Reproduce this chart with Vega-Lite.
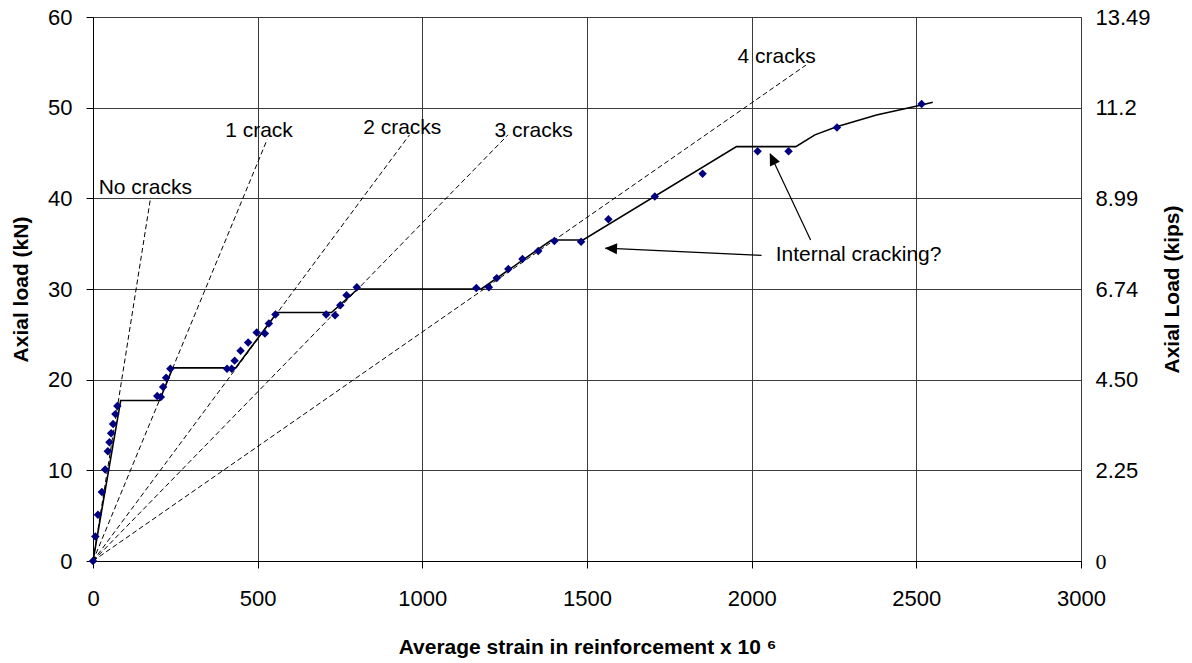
{
  "$schema": "https://vega.github.io/schema/vega-lite/v6.json",
  "autosize": "none",
  "width": 988,
  "height": 544,
  "padding": {"left": 93, "top": 17, "right": 111, "bottom": 102},
  "background": "white",
  "datasets": {
    "measured": [
      {"strain": 0, "load": 0}, {"strain": 7, "load": 2.7}, {"strain": 15, "load": 5.1}, {"strain": 27, "load": 7.6},
      {"strain": 37, "load": 10.1}, {"strain": 45, "load": 12.1}, {"strain": 50, "load": 13.1}, {"strain": 55, "load": 14.1},
      {"strain": 61, "load": 15.1}, {"strain": 68, "load": 16.2}, {"strain": 74, "load": 17.1}, {"strain": 195, "load": 18.2},
      {"strain": 206, "load": 18.1}, {"strain": 213, "load": 19.2}, {"strain": 222, "load": 20.2}, {"strain": 235, "load": 21.2},
      {"strain": 407, "load": 21.2}, {"strain": 421, "load": 21.2}, {"strain": 430, "load": 22.1}, {"strain": 448, "load": 23.2},
      {"strain": 471, "load": 24.1}, {"strain": 497, "load": 25.2}, {"strain": 522, "load": 25.1}, {"strain": 534, "load": 26.2},
      {"strain": 554, "load": 27.2}, {"strain": 708, "load": 27.2}, {"strain": 735, "load": 27.1}, {"strain": 751, "load": 28.2},
      {"strain": 770, "load": 29.3}, {"strain": 801, "load": 30.2}, {"strain": 1164, "load": 30.1}, {"strain": 1202, "load": 30.2},
      {"strain": 1226, "load": 31.2}, {"strain": 1261, "load": 32.2}, {"strain": 1304, "load": 33.3}, {"strain": 1352, "load": 34.2},
      {"strain": 1401, "load": 35.3}, {"strain": 1482, "load": 35.2}, {"strain": 1565, "load": 37.7}, {"strain": 1706, "load": 40.2},
      {"strain": 1851, "load": 42.7}, {"strain": 2018, "load": 45.2}, {"strain": 2112, "load": 45.2}, {"strain": 2259, "load": 47.8},
      {"strain": 2516, "load": 50.4}
    ],
    "model": [
      {"strain": 0, "load": 0}, {"strain": 84, "load": 17.7}, {"strain": 202, "load": 17.7}, {"strain": 242, "load": 21.3},
      {"strain": 433, "load": 21.3}, {"strain": 559, "load": 27.4}, {"strain": 724, "load": 27.4}, {"strain": 804, "load": 30.0},
      {"strain": 1179, "load": 30.0}, {"strain": 1392, "load": 35.4}, {"strain": 1488, "load": 35.4}, {"strain": 1954, "load": 45.7},
      {"strain": 2134, "load": 45.7}, {"strain": 2192, "load": 47.0}, {"strain": 2258, "load": 47.9}, {"strain": 2379, "load": 49.2},
      {"strain": 2516, "load": 50.3}, {"strain": 2550, "load": 50.6}
    ],
    "cracks": [
      {"crack": "No cracks", "strain": 0, "load": 0}, {"crack": "No cracks", "strain": 175, "load": 40.1},
      {"crack": "1 crack", "strain": 0, "load": 0}, {"crack": "1 crack", "strain": 529, "load": 46.5},
      {"crack": "2 cracks", "strain": 0, "load": 0}, {"crack": "2 cracks", "strain": 961, "load": 47.0},
      {"crack": "3 cracks", "strain": 0, "load": 0}, {"crack": "3 cracks", "strain": 1260, "load": 47.0},
      {"crack": "4 cracks", "strain": 0, "load": 0}, {"crack": "4 cracks", "strain": 2165, "load": 54.7}
    ],
    "labels": [
      {"label": "No cracks", "strain": 159, "load": 41.1},
      {"label": "1 crack", "strain": 504, "load": 47.4},
      {"label": "2 cracks", "strain": 939, "load": 47.8},
      {"label": "3 cracks", "strain": 1338, "load": 47.4},
      {"label": "4 cracks", "strain": 2076, "load": 55.6}
    ],
    "notes": [
      {"label": "Internal cracking?", "strain": 2073, "load": 33.7}
    ],
    "arrows": [
      {"strain": 2030, "load": 33.7, "strain2": 1556, "load2": 34.5},
      {"strain": 2179, "load": 35.4, "strain2": 2056, "load2": 44.9}
    ],
    "tip1": [{"strain": 1554, "load": 34.5}],
    "tip2": [{"strain": 2055, "load": 45.0}]
  },
  "layer": [
    {
      "layer": [
        {
          "data": {"name": "cracks"},
          "mark": {"type": "line", "color": "black", "strokeWidth": 1, "strokeDash": [5, 3]},
          "encoding": {
            "x": {
              "field": "strain", "type": "quantitative", "scale": {"domain": [0, 3000], "nice": false},
              "title": "Average strain in reinforcement x 10 ⁶",
              "axis": {"values": [0, 500, 1000, 1500, 2000, 2500, 3000], "format": "d", "grid": true, "labelPadding": 20, "labelFlush": false, "titleX": 494, "titleY": 86, "titleAlign": "center", "titleBaseline": "middle"}
            },
            "y": {
              "field": "load", "type": "quantitative", "scale": {"domain": [0, 60], "nice": false},
              "title": "Axial load (kN)",
              "axis": {"values": [0, 10, 20, 30, 40, 50, 60], "grid": true, "labelPadding": 14, "titleX": -72, "titleY": 272, "titleAngle": 270, "titleAlign": "center", "titleBaseline": "middle"}
            },
            "detail": {"field": "crack"}
          }
        },
        {
          "data": {"name": "model"},
          "mark": {"type": "line", "color": "black", "strokeWidth": 1.6},
          "encoding": {
            "x": {"field": "strain", "type": "quantitative", "title": "Average strain in reinforcement x 10 ⁶"},
            "y": {"field": "load", "type": "quantitative", "title": "Axial load (kN)"}
          }
        },
        {
          "data": {"name": "labels"},
          "mark": {"type": "text", "font": "Liberation Sans", "fontSize": 21, "color": "black", "align": "center", "baseline": "middle"},
          "encoding": {
            "x": {"field": "strain", "type": "quantitative", "title": "Average strain in reinforcement x 10 ⁶"},
            "y": {"field": "load", "type": "quantitative", "title": "Axial load (kN)"},
            "text": {"field": "label"}
          }
        },
        {
          "data": {"name": "notes"},
          "mark": {"type": "text", "font": "Liberation Sans", "fontSize": 21, "color": "black", "align": "left", "baseline": "middle"},
          "encoding": {
            "x": {"field": "strain", "type": "quantitative", "title": "Average strain in reinforcement x 10 ⁶"},
            "y": {"field": "load", "type": "quantitative", "title": "Axial load (kN)"},
            "text": {"field": "label"}
          }
        },
        {
          "data": {"name": "arrows"},
          "mark": {"type": "rule", "color": "black", "strokeWidth": 1.2},
          "encoding": {
            "x": {"field": "strain", "type": "quantitative", "title": "Average strain in reinforcement x 10 ⁶"},
            "y": {"field": "load", "type": "quantitative", "title": "Axial load (kN)"},
            "x2": {"field": "strain2"},
            "y2": {"field": "load2"}
          }
        },
        {
          "data": {"name": "tip1"},
          "mark": {"type": "point", "shape": "M0,0 L1,-0.45 L1,0.45 Z", "filled": true, "color": "black", "opacity": 1, "size": 600, "angle": 2.4},
          "encoding": {
            "x": {"field": "strain", "type": "quantitative", "title": "Average strain in reinforcement x 10 ⁶"},
            "y": {"field": "load", "type": "quantitative", "title": "Axial load (kN)"}
          }
        },
        {
          "data": {"name": "tip2"},
          "mark": {"type": "point", "shape": "M0,0 L1,-0.45 L1,0.45 Z", "filled": true, "color": "black", "opacity": 1, "size": 600, "angle": 65},
          "encoding": {
            "x": {"field": "strain", "type": "quantitative", "title": "Average strain in reinforcement x 10 ⁶"},
            "y": {"field": "load", "type": "quantitative", "title": "Axial load (kN)"}
          }
        }
      ]
    },
    {
      "data": {"name": "measured"},
      "mark": {"type": "point", "shape": "diamond", "filled": true, "color": "#000080", "opacity": 1, "size": 72},
      "encoding": {
        "x": {"field": "strain", "type": "quantitative", "title": "Average strain in reinforcement x 10 ⁶"},
        "y": {
          "field": "load", "type": "quantitative", "scale": {"domain": [0, 60], "nice": false},
          "title": "Axial Load (kips)",
          "axis": {
            "orient": "right",
            "values": [0, 10, 20, 30, 40, 50, 60],
            "grid": false, "ticks": false, "tickSize": 0, "domain": false, "labelPadding": 14,
            "labelExpr": "datum.value == 0 ? '0' : datum.value == 10 ? '2.25' : datum.value == 20 ? '4.50' : datum.value == 30 ? '6.74' : datum.value == 40 ? '8.99' : datum.value == 50 ? '11.2' : '13.49'",
            "labelFont": {"condition": {"test": "datum.value == 0", "value": "Liberation Serif"}, "value": "Liberation Sans"},
            "titleX": 91, "titleY": 272, "titleAngle": 270, "titleAlign": "center", "titleBaseline": "middle"
          }
        }
      }
    }
  ],
  "resolve": {"scale": {"y": "independent"}},
  "config": {
    "font": "Liberation Sans",
    "view": {"stroke": "#808080", "strokeWidth": 1},
    "axis": {
      "labelFont": "Liberation Sans", "labelFontSize": 22, "labelColor": "black",
      "titleFont": "Liberation Sans", "titleFontSize": 21, "titleFontWeight": "bold", "titleColor": "black",
      "domainColor": "black", "domainWidth": 1, "tickColor": "black", "tickSize": 7, "tickWidth": 1,
      "gridColor": "#3a3a3a", "gridWidth": 1, "gridOpacity": 1
    }
  }
}
